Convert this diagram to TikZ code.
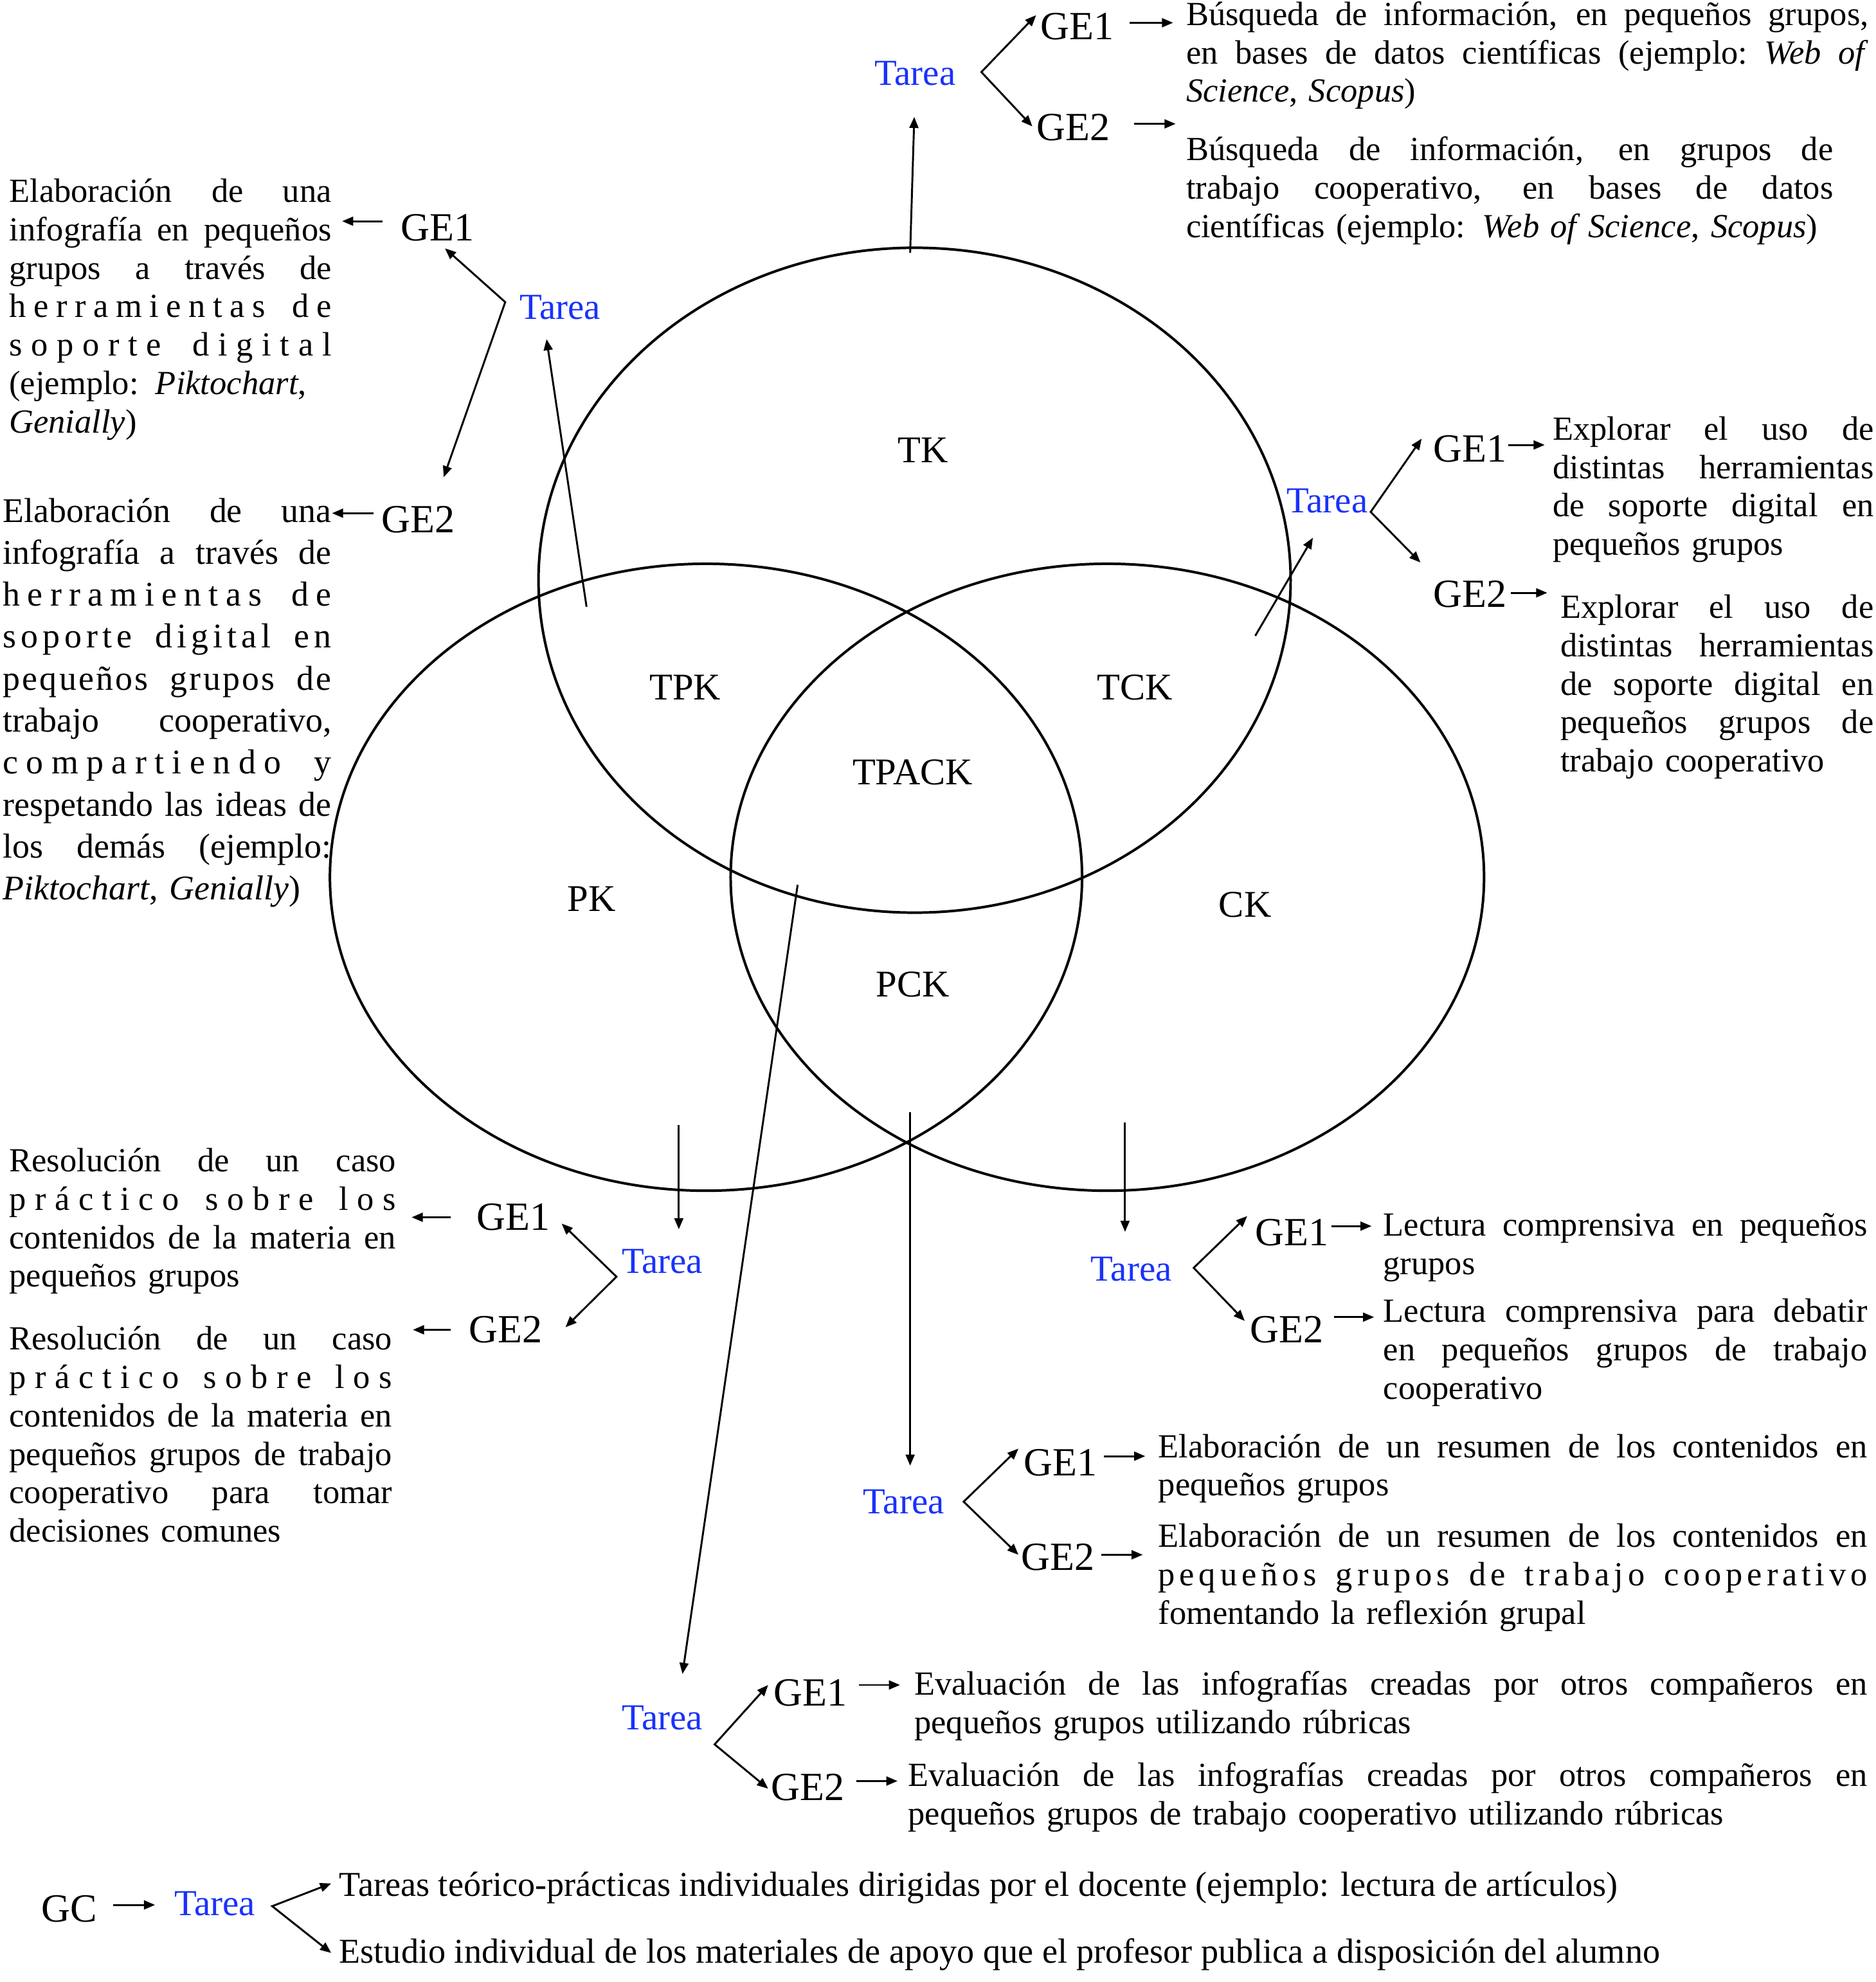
\documentclass[tikz,border=0pt]{standalone}
\usepackage{fontspec}
\setmainfont{Liberation Serif}
\usetikzlibrary{arrows.meta,calc}
\definecolor{tblue}{RGB}{25,50,250}
\newcommand\J[1]{\leavevmode\hbox to \hsize{\spaceskip=\fontdimen2\font plus 1fil minus \fontdimen4\font\relax #1}}
\newcommand\LS[2]{{\addfontfeature{LetterSpace=#1}#2}}
\newcommand\bodyfont{\fontsize{15.2}{17.3}\selectfont}
\newcommand\bodyfontB{\fontsize{15.6}{18.9}\selectfont}
\newcommand\linefont{\fontsize{15.7}{17.3}\selectfont}
\begin{document}
\begin{tikzpicture}[x=0.02cm,y=-0.02cm,
  circ/.style={line width=1.15pt},
  arr/.style={line width=0.85pt,-{Triangle[length=5pt,width=4pt]}},
  arr2/.style={line width=0.85pt,{Triangle[length=5pt,width=4pt]}-{Triangle[length=5pt,width=4pt]}},
  tarea/.style={inner sep=0pt,text=tblue,font=\fontsize{16.5}{19}\selectfont},
  ge/.style={inner sep=0pt,font=\fontsize{18}{21}\selectfont},
  lbl/.style={inner sep=0pt,font=\fontsize{17}{20}\selectfont},
  txt/.style={anchor=base west,inner sep=0pt,text width=#1,align=left,font=\bodyfont},
  line/.style={anchor=base west,inner sep=0pt,font=\linefont}]
\useasboundingbox (0,0) rectangle (1484,1568);

% Venn ellipses
\draw[circ] (723.5,459) ellipse [x radius=297.5, y radius=263];
\draw[circ] (558.5,694) ellipse [x radius=297.5, y radius=248];
\draw[circ] (876,694) ellipse [x radius=298, y radius=248];

% region labels
\node[lbl] (tk) at (730,356) {TK};
\node[lbl] (tpk) at (542,544) {TPK};
\node[lbl] (tck) at (898,544) {TCK};
\node[lbl] (tpack) at (722,611) {TPACK};
\node[lbl] (pk) at (468,711) {PK};
\node[lbl] (ck) at (985,716) {CK};
\node[lbl] (pck) at (722,779) {PCK};

% start points inside the diagram
\coordinate (e1) at (720,200);
\coordinate (e2) at (464,480);
\coordinate (e3) at (993,503);
\coordinate (e4) at (537,890);
\coordinate (e5) at (890,888);
\coordinate (e6) at (720,880);
\coordinate (e7) at (631,700);

% ---------- group 1 (top) ----------
\node[tarea] (t1) at (724,58) {Tarea};
\node[ge] (g11) at (852,21) {GE1};
\node[ge] (g12) at (849,101) {GE2};
\node[txt=10.8cm] (x1) at (938,20) {\J{Búsqueda de información, en pequeños grupos,}\\
\J{en bases de datos científicas (ejemplo: \textit{Web of}}\\
\mbox{\textit{Science}, \textit{Scopus})}};
\node[txt=10.24cm] (x2) at (938,127) {\J{Búsqueda de información, en grupos de}\\
\J{trabajo cooperativo, en bases de datos}\\
\mbox{científicas (ejemplo: \textit{Web of Science}, \textit{Scopus})}};
\draw[arr,shorten >=0.49cm] (e1) -- (t1.south);
\draw[arr2] ($(g11.west)+(-3,-9)$) -- ($(t1.east)+(20,-1)$) -- ($(g12.west)+(-3,-1)$);
\draw[arr] ($(g11.east)+(12,-3)$) -- ($(g11.east -| x1.west)+(-10,-3)$);
\draw[arr] ($(g12.east)+(19,-3)$) -- ($(g12.east -| x2.west)+(-8,-3)$);

% ---------- group 2 (upper left) ----------
\node[tarea] (t2) at (443,243) {Tarea};
\node[ge] (g21) at (346,180) {GE1};
\node[ge] (g22) at (331,411) {GE2};
\node[txt=5.1cm] (l1) at (7,160) {\J{Elaboración de una}\\
\J{infografía en pequeños}\\
\J{grupos a través de}\\
\J{\LS{22}{herramientas de}}\\
\J{\LS{26}{soporte digital}}\\
\J{(ejemplo: \textit{Piktochart},}\\
\mbox{\textit{Genially})}};
\node[txt=5.2cm,font=\bodyfontB] (l2) at (2,413) {\J{Elaboración de una}\\
\J{infografía a través de}\\
\J{\LS{21}{herramientas de}}\\
\J{\LS{13}{soporte digital en}}\\
\J{\LS{6}{pequeños grupos de}}\\
\J{trabajo cooperativo,}\\
\J{\LS{23}{compartiendo y}}\\
\J{respetando las ideas de}\\
\J{los demás (ejemplo:}\\
\mbox{\textit{Piktochart}, \textit{Genially})}};
\draw[arr,shorten >=0.31cm] (e2) -- ($(t2.south)!0.4!(t2.south west)$);
\draw[arr2] ($(g21.south)+(6,5.5)$) -- ($(t2.west)+(-11,-4)$) -- ($(g22.north)+(20,-22.5)$);
\draw[arr] ($(g21.west)+(-14,-5)$) -- ($(g21.west -| l1.east)+(8,-5)$);
\draw[arr] ($(g22.west)+(-6,-5)$) -- ($(g22.west -| l2.east)+(0,-5)$);

% ---------- group 3 (right) ----------
\node[tarea] (t3) at (1050,396) {Tarea};
\node[ge] (g31) at (1163,355) {GE1};
\node[ge] (g32) at (1163,470) {GE2};
\node[txt=5.08cm] (r1) at (1228,348) {\J{Explorar el uso de}\\
\J{distintas herramientas}\\
\J{de soporte digital en}\\
\mbox{pequeños grupos}};
\node[txt=4.96cm] (r2) at (1234,489) {\J{Explorar el uso de}\\
\J{distintas herramientas}\\
\J{de soporte digital en}\\
\J{pequeños grupos de}\\
\mbox{trabajo cooperativo}};
\draw[arr,shorten >=0.45cm] (e3) -- (t3.south);
\draw[arr2] ($(g31.west)+(-9,-8)$) -- ($(t3.east)+(2,9)$) -- ($(g32.west)+(-10,-25)$);
\draw[arr] ($(g31.east)+(1,-3)$) -- ($(g31.east -| r1.west)+(-6,-3)$);
\draw[arr] ($(g32.east)+(3,-1)$) -- ($(g32.east -| r2.west)+(-10,-1)$);

% ---------- group 4 (lower left) ----------
\node[tarea] (t4) at (524,998) {Tarea};
\node[ge] (g41) at (406,963) {GE1};
\node[ge] (g42) at (400,1052) {GE2};
\node[txt=6.12cm] (ll1) at (7,927) {\J{Resolución de un caso}\\
\J{\LS{26}{práctico sobre los}}\\
\J{contenidos de la materia en}\\
\mbox{pequeños grupos}};
\node[txt=6.06cm] (ll2) at (7,1068) {\J{Resolución de un caso}\\
\J{\LS{26}{práctico sobre los}}\\
\J{contenidos de la materia en}\\
\J{pequeños grupos de trabajo}\\
\J{cooperativo para tomar}\\
\mbox{decisiones comunes}};
\draw[arr,shorten >=0.31cm] (e4) -- (e4 |- t4.north);
\draw[arr2] ($(g41.east)+(9,5)$) -- ($(t4.west)+(-4,12)$) -- ($(g42.east)+(18,-2)$);
\draw[arr] ($(g41.west)+(-20,0)$) -- ($(g41.west -| ll1.east)+(12,0)$);
\draw[arr] ($(g42.west)+(-14,0)$) -- ($(g42.west -| ll2.east)+(16,0)$);

% ---------- group 5 (lower right) ----------
\node[tarea] (t5) at (895,1004) {Tarea};
\node[ge] (g51) at (1022,975) {GE1};
\node[ge] (g52) at (1018,1052) {GE2};
\node[txt=7.66cm] (lr1) at (1094,978) {\J{Lectura comprensiva en pequeños}\\
\mbox{grupos}};
\node[txt=7.66cm] (lr2) at (1094,1046) {\J{Lectura comprensiva para debatir}\\
\J{en pequeños grupos de trabajo}\\
\mbox{cooperativo}};
\draw[arr,shorten >=0.39cm] (e5) -- (e5 |- t5.north);
\draw[arr2] ($(g51.west)+(-6,-13)$) -- ($(t5.east)+(17,-1)$) -- ($(g52.west)+(-4,-7)$);
\draw[arr] ($(g51.east)+(2,-5)$) -- ($(g51.east -| lr1.west)+(-9,-5)$);
\draw[arr] ($(g52.east)+(8,-10)$) -- ($(g52.east -| lr2.west)+(-7,-10)$);

% ---------- group 6 (middle) ----------
\node[tarea] (t6) at (715,1188) {Tarea};
\node[ge] (g61) at (839,1157) {GE1};
\node[ge] (g62) at (837,1232) {GE2};
\node[txt=11.22cm] (m1) at (916,1153) {\J{Elaboración de un resumen de los contenidos en}\\
\mbox{pequeños grupos}};
\node[txt=11.22cm] (m2) at (916,1224) {\J{Elaboración de un resumen de los contenidos en}\\
\J{\LS{13}{pequeños grupos de trabajo cooperativo}}\\
\mbox{fomentando la reflexión grupal}};
\draw[arr,shorten >=0.37cm] (e6) -- (e6 |- t6.north);
\draw[arr2] ($(g61.west)+(-4,-11)$) -- ($(t6.east)+(15,0)$) -- ($(g62.west)+(-2,-2)$);
\draw[arr] ($(g61.east)+(5,-5)$) -- ($(g61.east -| m1.west)+(-10,-5)$);
\draw[arr] ($(g62.east)+(5,-2)$) -- ($(g62.east -| m2.west)+(-12,-2)$);

% ---------- group 7 (bottom) ----------
\node[tarea] (t7) at (524,1359) {Tarea};
\node[ge] (g71) at (641,1339) {GE1};
\node[ge] (g72) at (639,1414) {GE2};
\node[txt=15.08cm] (b1) at (723,1341) {\J{Evaluación de las infografías creadas por otros compañeros en}\\
\mbox{pequeños grupos utilizando rúbricas}};
\node[txt=15.18cm] (b2) at (718,1413) {\J{Evaluación de las infografías creadas por otros compañeros en}\\
\mbox{pequeños grupos de trabajo cooperativo utilizando rúbricas}};
\draw[arr,shorten >=0.5cm] (e7) -- ($(t7.north)!0.38!(t7.north east)$);
\draw[arr2] ($(g71.west)+(-4,-6)$) -- ($(t7.east)+(9,21)$) -- ($(g72.west)+(-2,1)$);
\draw[arr] ($(g71.east)+(9,-6)$) -- ($(g71.east -| b1.west)+(-11,-6)$);
\draw[arr] ($(g72.east)+(9,-5)$) -- ($(g72.east -| b2.west)+(-8,-5)$);

% ---------- group 8 (GC) ----------
\node[ge] (gc) at (55,1510) {GC};
\node[tarea] (t8) at (170,1506) {Tarea};
\node[line] (s1) at (268,1500) {Tareas teórico-prácticas individuales dirigidas por el docente (ejemplo: lectura de artículos)};
\node[line] (s2) at (268,1553) {Estudio individual de los materiales de apoyo que el profesor publica a disposición del alumno};
\draw[arr] ($(gc.east)+(12,-3)$) -- ($(t8.west)+(-15,1)$);
\draw[arr2] ($(s1.base west)+(-6,-10)$) -- ($(t8.east)+(13,2)$) -- ($(s2.base west)+(-6,-8)$);
\end{tikzpicture}
\end{document}
